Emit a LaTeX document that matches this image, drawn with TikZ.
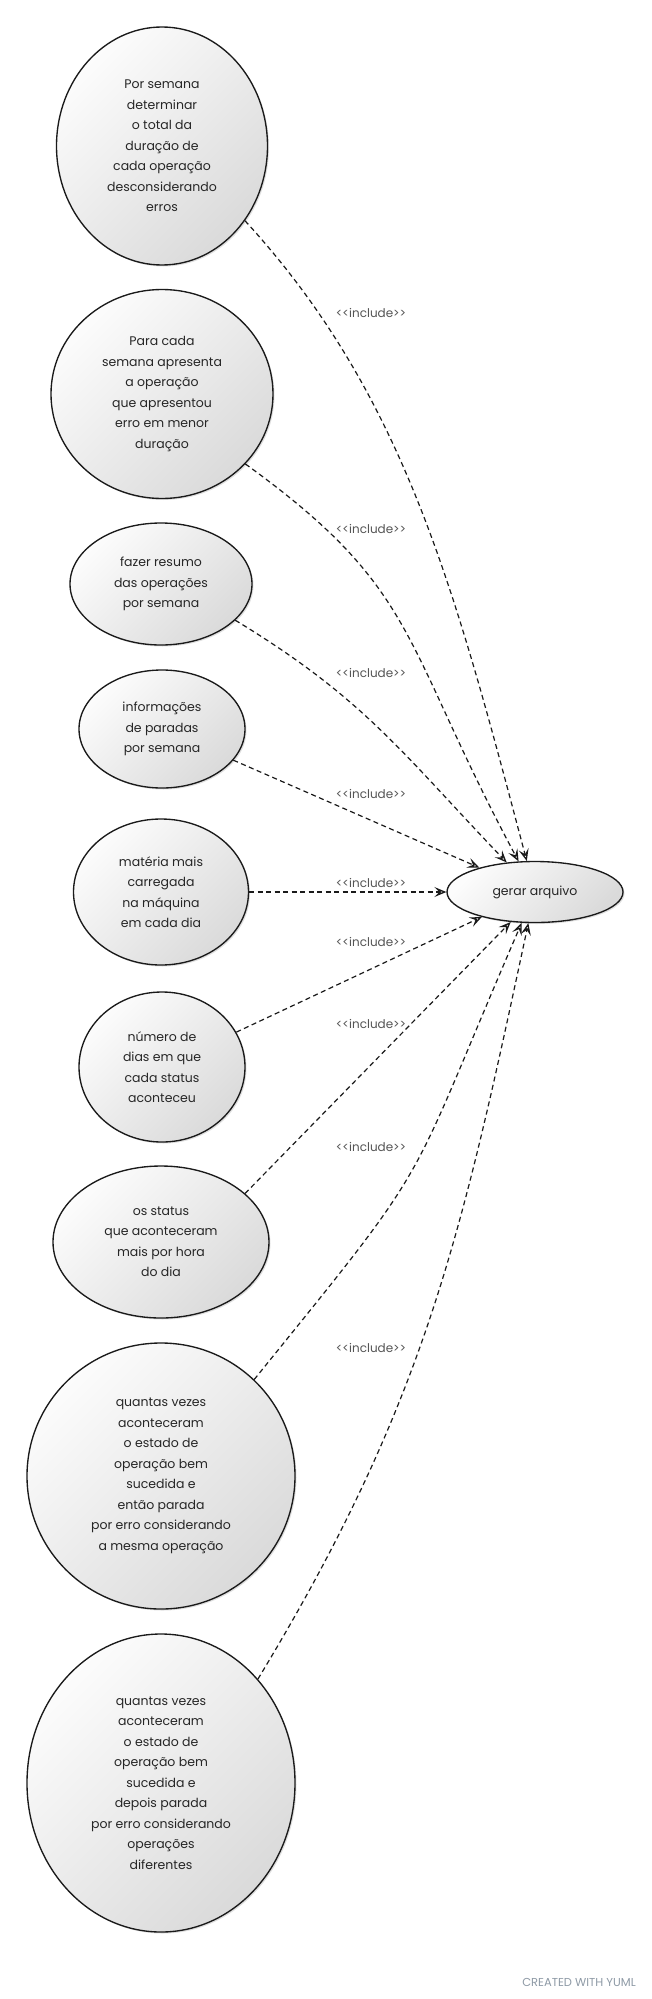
\documentclass[tikz,border=0pt]{standalone}
\usepackage{fontspec}
\setmainfont{Poppins}
\usetikzlibrary{shapes.geometric, arrows.meta, shadows}
\definecolor{edgec}{HTML}{1A1A1A}
\definecolor{txt}{HTML}{262626}
\definecolor{lbl}{HTML}{555555}
\definecolor{fillA}{HTML}{FCFCFC}
\definecolor{fillB}{HTML}{DADADA}
\definecolor{yuml}{HTML}{8E9AA6}
\begin{document}
\begin{tikzpicture}[x=1pt, y=-1pt,
  uc/.style={ellipse, draw=edgec, line width=1.35pt, inner sep=0pt, align=center,
    text=txt, font=\fontsize{12.5}{20.5}\selectfont,
    top color=fillA, bottom color=fillB, shading angle=45,
    drop shadow={shadow xshift=1.5pt, shadow yshift=-1.5pt, opacity=0.25, fill=black!50}},
  inc/.style={draw=edgec, line width=1.2pt, dash pattern=on 5pt off 3.5pt,
    -{Stealth[open, length=12pt, width=10pt, inset=5pt, line width=1.3pt]}},
  lab/.style={text=lbl, font=\fontsize{12}{14}\selectfont, inner sep=0pt}
]
\fill[white] (0,0) rectangle (652,1999);
\useasboundingbox (0,0) rectangle (652,1999);

\node[uc, minimum width=211pt, minimum height=238pt] (E1) at (162,146)
  {Por semana\\determinar\\o total da\\duração de\\cada operação\\desconsiderando\\erros};
\node[uc, minimum width=222pt, minimum height=209pt] (E2) at (162,394)
  {Para cada\\semana apresenta\\a operação\\que apresentou\\erro em menor\\duração};
\node[uc, minimum width=182pt, minimum height=122pt] (E3) at (161,584)
  {fazer resumo\\das operações\\por semana};
\node[uc, minimum width=166pt, minimum height=118pt] (E4) at (162,729)
  {informações\\de paradas\\por semana};
\node[uc, minimum width=175pt, minimum height=146pt] (E5) at (161,892)
  {matéria mais\\carregada\\na máquina\\em cada dia};
\node[uc, minimum width=166pt, minimum height=150pt] (E6) at (162,1067)
  {número de\\dias em que\\cada status\\aconteceu};
\node[uc, minimum width=216pt, minimum height=152pt] (E7) at (161,1242)
  {os status\\que aconteceram\\mais por hora\\do dia};
\node[uc, minimum width=268pt, minimum height=266pt] (E8) at (161,1476)
  {quantas vezes\\aconteceram\\o estado de\\operação bem\\sucedida e\\então parada\\por erro considerando\\a mesma operação};
\node[uc, minimum width=268pt, minimum height=298pt] (E9) at (161,1783)
  {quantas vezes\\aconteceram\\o estado de\\operação bem\\sucedida e\\depois parada\\por erro considerando\\operações\\diferentes};
\node[uc, minimum width=176pt, minimum height=61pt] (G) at (535,892) {gerar arquivo};

\draw[inc] (E1.-42) .. controls (405,395) and (455,590) .. (G);
\draw[inc] (E2.-40) .. controls (420,590) and (400,640) .. (G);
\draw[inc] (E3.-26) .. controls (365,699) and (401,752) .. (G);
\draw[inc] (E4) -- (G);
\draw[inc] (E5) -- (G);
\draw[inc] (E6) -- (G);
\draw[inc] (E7.30) -- (G.231);
\draw[inc] (E8.46) .. controls (440,1150) and (402,1200) .. (G);
\draw[inc] (E9.47) .. controls (425.7,1402) and (461,1238) .. (G);

\node[lab] (L1) at (371,313) {<{}<include>{}>};
\node[lab] (L2) at (371,529) {<{}<include>{}>};
\node[lab] (L3) at (371,673) {<{}<include>{}>};
\node[lab] (L4) at (371,794) {<{}<include>{}>};
\node[lab] (L5) at (371,883) {<{}<include>{}>};
\node[lab] (L6) at (371,942) {<{}<include>{}>};
\node[lab] (L7) at (371,1024) {<{}<include>{}>};
\node[lab] (L8) at (371,1147) {<{}<include>{}>};
\node[lab] (L9) at (371,1348) {<{}<include>{}>};

\node[text=yuml, font=\fontsize{11.5}{13}\selectfont, inner sep=0pt] (Y) at (579,1982) {CREATED WITH YUML};
\end{tikzpicture}
\end{document}
